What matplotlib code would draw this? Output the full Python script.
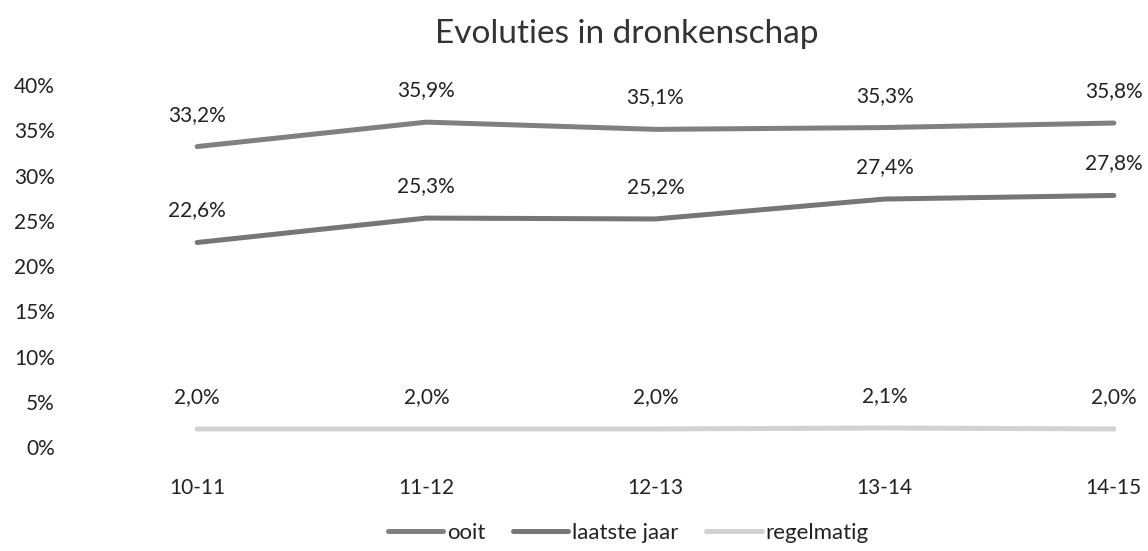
import matplotlib
matplotlib.use("Agg")
import matplotlib.pyplot as plt
from matplotlib.ticker import FuncFormatter

# ── Data ──────────────────────────────────────────────────────────────────────
years        = ["10-11", "11-12", "12-13", "13-14", "14-15"]
ooit         = [33.2, 35.9, 35.1, 35.3, 35.8]
laatste_jaar = [22.6, 25.3, 25.2, 27.4, 27.8]
regelmatig   = [2.0, 2.0, 2.0, 2.1, 2.0]

series = [
    ("ooit", ooit, "#808080"),
    ("laatste jaar", laatste_jaar, "#767676"),
    ("regelmatig", regelmatig, "#d2d2d2"),
]

plt.rcParams["font.family"] = ["Lato", "DejaVu Sans"]

fig = plt.figure(figsize=(11.48, 5.51), dpi=100)
ax = fig.add_axes([0.061, 0.1887, 0.925, 0.657])

x = list(range(len(years)))
for name, vals, col in series:
    ax.plot(x, vals, color=col, linewidth=3.6, solid_capstyle="round", label=name)
    for xi, v in zip(x, vals):
        ax.annotate(f"{v:.1f}%".replace(".", ","), (xi, v), xytext=(0, 23),
                    textcoords="offset points", ha="center", va="center",
                    fontsize=15, color="#222222")

ax.set_ylim(0, 40)
ax.set_yticks(range(0, 41, 5))
ax.yaxis.set_major_formatter(FuncFormatter(lambda v, p: f"{v:.0f}%"))
ax.set_xlim(-0.555, 4.079)
ax.set_xticks(x)
ax.set_xticklabels(years)
ax.tick_params(axis="both", length=0, labelsize=15, colors="#222222")
ax.tick_params(axis="x", pad=22)
ax.tick_params(axis="y", pad=11)
for s in ax.spines.values():
    s.set_visible(False)

fig.suptitle("Evoluties in dronkenschap", x=0.546, y=0.965, fontsize=24,
             color="#333333", fontweight="normal")

fig.legend(loc="lower center", bbox_to_anchor=(0.547, -0.022), ncol=3,
           frameon=False, fontsize=16, handlelength=2.5, handletextpad=0.15,
           columnspacing=1.25, labelcolor="#222222")

fig.savefig("out.png", dpi=100)
